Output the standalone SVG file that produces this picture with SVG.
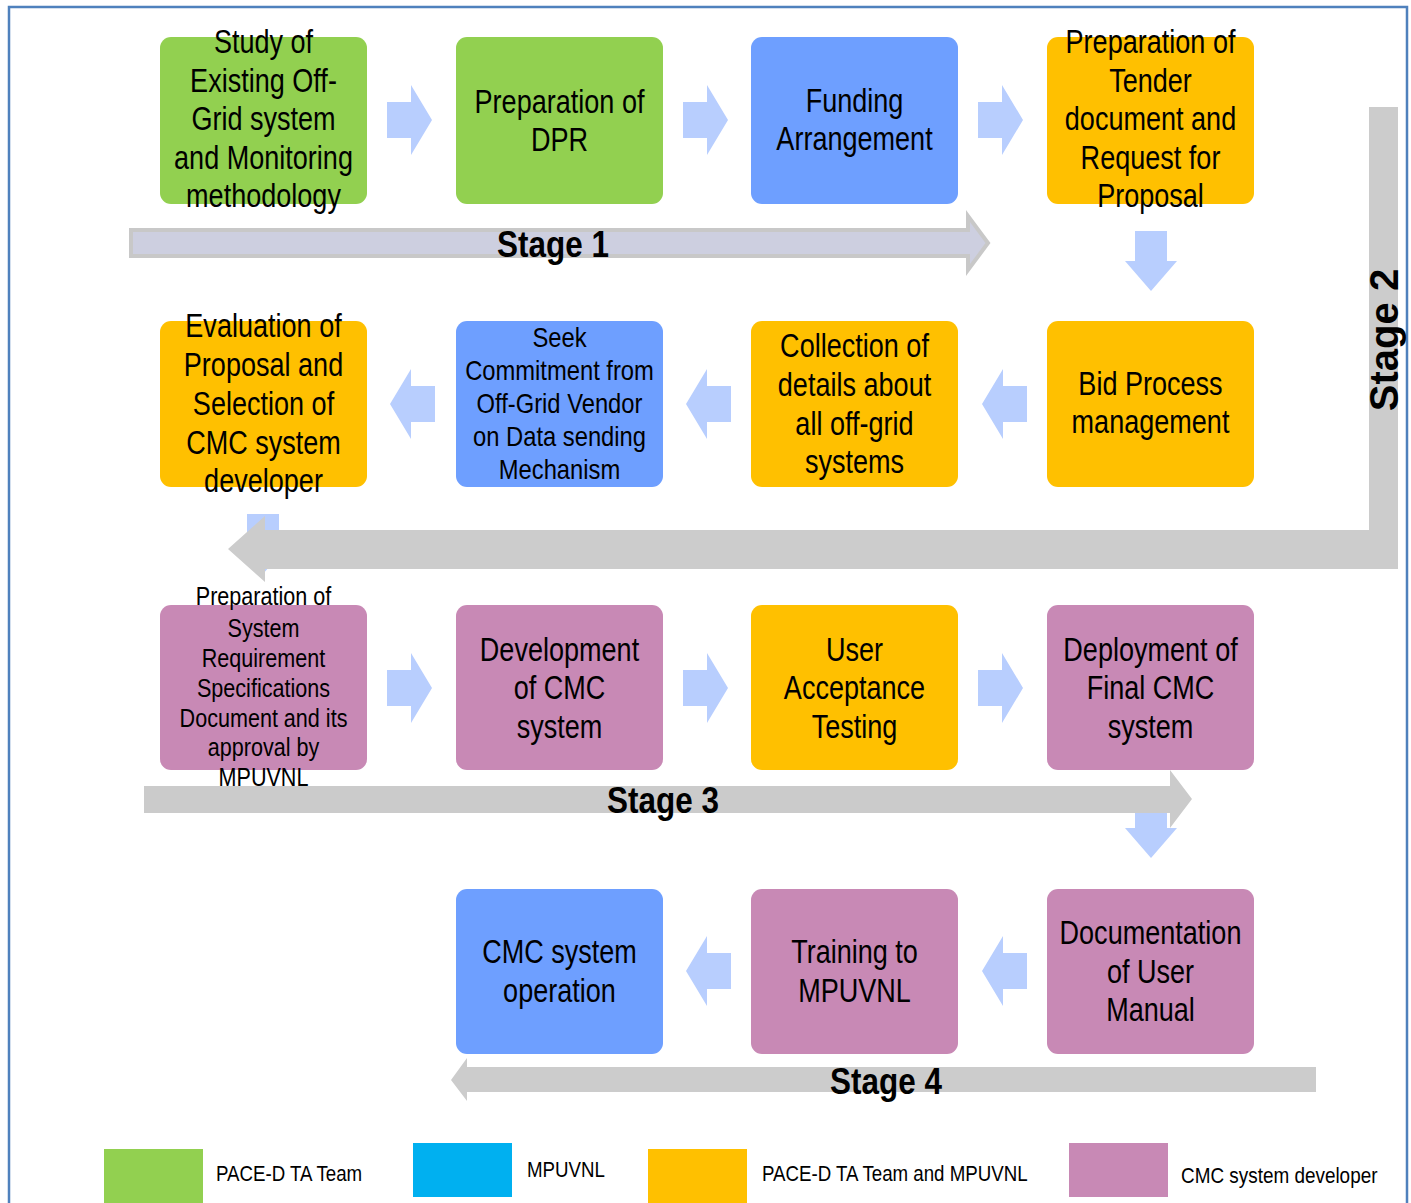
<svg xmlns="http://www.w3.org/2000/svg" width="1411" height="1203" viewBox="0 0 1411 1203">
  <style>
    .box { stroke: none; }
    .green { fill: #92d050; }
    .blue { fill: #6e9fff; }
    .orange { fill: #ffc000; }
    .purple { fill: #c889b5; }
    .t { font-family: "Liberation Sans", Arial, sans-serif; font-size: 33px; fill: #000; text-anchor: middle; }
    .ts { font-family: "Liberation Sans", Arial, sans-serif; font-size: 27px; fill: #000; text-anchor: middle; }
    .tx { font-family: "Liberation Sans", Arial, sans-serif; font-size: 26px; fill: #000; text-anchor: middle; }
    .stage { font-family: "Liberation Sans", Arial, sans-serif; font-size: 37px; font-weight: bold; fill: #000; text-anchor: middle; }
    .stage2 { font-family: "Liberation Sans", Arial, sans-serif; font-size: 40px; font-weight: bold; fill: #000; text-anchor: middle; }
    .leg { font-family: "Liberation Sans", Arial, sans-serif; font-size: 22px; fill: #000; }
    .flow { fill: #b8cefe; }
  </style>
  <defs>
    <path id="arrowR" d="M0,-18 H24 V-35 L45,0 L24,35 V18 H0 Z"/>
    <path id="arrowD" d="M-16,0 H16 V30 H26 L0,60 L-26,30 H-16 Z"/>
  </defs>

  <rect x="0" y="0" width="1411" height="1203" fill="#fff"/>
  <!-- outer frame -->
  <path d="M9,1203 V7 H1407 V1203" fill="none" stroke="#4f81bd" stroke-width="2.5"/>

  <g id="connectors">
    <!-- step arrows, row 1 -->
    <use href="#arrowR" class="flow" transform="translate(387,120)"/>
    <use href="#arrowR" class="flow" transform="translate(683,120)"/>
    <use href="#arrowR" class="flow" transform="translate(978,120)"/>
    <use href="#arrowD" class="flow" transform="translate(1151,231)"/>
    <!-- row 2 (right to left) -->
    <use href="#arrowR" class="flow" transform="translate(1027,404) scale(-1,1)"/>
    <use href="#arrowR" class="flow" transform="translate(731,404) scale(-1,1)"/>
    <use href="#arrowR" class="flow" transform="translate(435,404) scale(-1,1)"/>
    <use href="#arrowD" class="flow" transform="translate(263,514)"/>
    <!-- row 3 -->
    <use href="#arrowR" class="flow" transform="translate(387,688)"/>
    <use href="#arrowR" class="flow" transform="translate(683,688)"/>
    <use href="#arrowR" class="flow" transform="translate(978,688)"/>
    <use href="#arrowD" class="flow" transform="translate(1151,798)"/>
    <!-- row 4 (right to left) -->
    <use href="#arrowR" class="flow" transform="translate(1027,971) scale(-1,1)"/>
    <use href="#arrowR" class="flow" transform="translate(731,971) scale(-1,1)"/>
  </g>

  <g id="stage-arrows">
    <g id="stage1">
      <path d="M131,230 H968 V216 L988,243 L968,270 V256 H131 Z" fill="#cdcfe0" stroke="#c8c8c8" stroke-width="4"/>
    </g>
    <g id="stage2">
      <path d="M1369,107 H1398 V569 H265 V582 L228,549 L265,516 V530 H1369 Z" fill="#cccccc"/>
      <text class="stage2" transform="translate(1398,340) rotate(-90)">Stage 2</text>
    </g>
  </g>

  <!-- row 1 -->
  <g id="n-study">
    <rect class="box green" x="160" y="37" width="207" height="167" rx="11"/>
    <g transform="translate(263.5,0) scale(0.82,1)">
      <text class="t" x="0" y="53">Study of</text>
      <text class="t" x="0" y="92">Existing Off-</text>
      <text class="t" x="0" y="130">Grid system</text>
      <text class="t" x="0" y="169">and Monitoring</text>
      <text class="t" x="0" y="207">methodology</text>
    </g>
  </g>
  <g id="n-dpr">
    <rect class="box green" x="456" y="37" width="207" height="167" rx="11"/>
    <g transform="translate(559.5,0) scale(0.82,1)">
      <text class="t" x="0" y="113">Preparation of</text>
      <text class="t" x="0" y="151">DPR</text>
    </g>
  </g>
  <g id="n-funding">
    <rect class="box blue" x="751" y="37" width="207" height="167" rx="11"/>
    <g transform="translate(854.5,0) scale(0.82,1)">
      <text class="t" x="0" y="112">Funding</text>
      <text class="t" x="0" y="150">Arrangement</text>
    </g>
  </g>
  <g id="n-tender">
    <rect class="box orange" x="1047" y="37" width="207" height="167" rx="11"/>
    <g transform="translate(1150.5,0) scale(0.82,1)">
      <text class="t" x="0" y="53">Preparation of</text>
      <text class="t" x="0" y="92">Tender</text>
      <text class="t" x="0" y="130">document and</text>
      <text class="t" x="0" y="169">Request for</text>
      <text class="t" x="0" y="207">Proposal</text>
    </g>
  </g>

  <!-- row 2 -->
  <g id="n-evaluation">
    <rect class="box orange" x="160" y="321" width="207" height="166" rx="11"/>
    <g transform="translate(263.5,0) scale(0.82,1)">
      <text class="t" x="0" y="337">Evaluation of</text>
      <text class="t" x="0" y="376">Proposal and</text>
      <text class="t" x="0" y="415">Selection of</text>
      <text class="t" x="0" y="454">CMC system</text>
      <text class="t" x="0" y="492">developer</text>
    </g>
  </g>
  <g id="n-seek">
    <rect class="box blue" x="456" y="321" width="207" height="166" rx="11"/>
    <g transform="translate(559.5,0) scale(0.88,1)">
      <text class="ts" x="0" y="347">Seek</text>
      <text class="ts" x="0" y="380">Commitment from</text>
      <text class="ts" x="0" y="413">Off-Grid Vendor</text>
      <text class="ts" x="0" y="446">on Data sending</text>
      <text class="ts" x="0" y="479">Mechanism</text>
    </g>
  </g>
  <g id="n-collection">
    <rect class="box orange" x="751" y="321" width="207" height="166" rx="11"/>
    <g transform="translate(854.5,0) scale(0.82,1)">
      <text class="t" x="0" y="357">Collection of</text>
      <text class="t" x="0" y="396">details about</text>
      <text class="t" x="0" y="435">all off-grid</text>
      <text class="t" x="0" y="473">systems</text>
    </g>
  </g>
  <g id="n-bid">
    <rect class="box orange" x="1047" y="321" width="207" height="166" rx="11"/>
    <g transform="translate(1150.5,0) scale(0.82,1)">
      <text class="t" x="0" y="395">Bid Process</text>
      <text class="t" x="0" y="433">management</text>
    </g>
  </g>

  <!-- row 3 -->
  <g id="n-srs">
    <rect class="box purple" x="160" y="605" width="207" height="165" rx="11"/>
    <g transform="translate(263.5,0) scale(0.83,1)">
      <text class="tx" x="0" y="605">Preparation of</text>
      <text class="tx" x="0" y="637">System</text>
      <text class="tx" x="0" y="667">Requirement</text>
      <text class="tx" x="0" y="697">Specifications</text>
      <text class="tx" x="0" y="727">Document and its</text>
      <text class="tx" x="0" y="756">approval by</text>
      <text class="tx" x="0" y="786">MPUVNL</text>
    </g>
  </g>
  <g id="n-development">
    <rect class="box purple" x="456" y="605" width="207" height="165" rx="11"/>
    <g transform="translate(559.5,0) scale(0.82,1)">
      <text class="t" x="0" y="661">Development</text>
      <text class="t" x="0" y="699">of CMC</text>
      <text class="t" x="0" y="738">system</text>
    </g>
  </g>
  <g id="n-uat">
    <rect class="box orange" x="751" y="605" width="207" height="165" rx="11"/>
    <g transform="translate(854.5,0) scale(0.82,1)">
      <text class="t" x="0" y="661">User</text>
      <text class="t" x="0" y="699">Acceptance</text>
      <text class="t" x="0" y="738">Testing</text>
    </g>
  </g>
  <g id="n-deployment">
    <rect class="box purple" x="1047" y="605" width="207" height="165" rx="11"/>
    <g transform="translate(1150.5,0) scale(0.82,1)">
      <text class="t" x="0" y="661">Deployment of</text>
      <text class="t" x="0" y="699">Final CMC</text>
      <text class="t" x="0" y="738">system</text>
    </g>
  </g>

  <!-- stage 3 arrow sits over the SRS text overflow -->
  <g id="stage3">
    <path d="M144,786 H1170 V770 L1192,799 L1170,828 V813 H144 Z" fill="#cbcbcb"/>
  </g>

  <!-- row 4 -->
  <g id="n-operation">
    <rect class="box blue" x="456" y="889" width="207" height="165" rx="11"/>
    <g transform="translate(559.5,0) scale(0.82,1)">
      <text class="t" x="0" y="963">CMC system</text>
      <text class="t" x="0" y="1002">operation</text>
    </g>
  </g>
  <g id="n-training">
    <rect class="box purple" x="751" y="889" width="207" height="165" rx="11"/>
    <g transform="translate(854.5,0) scale(0.82,1)">
      <text class="t" x="0" y="963">Training to</text>
      <text class="t" x="0" y="1002">MPUVNL</text>
    </g>
  </g>
  <g id="n-manual">
    <rect class="box purple" x="1047" y="889" width="207" height="165" rx="11"/>
    <g transform="translate(1150.5,0) scale(0.82,1)">
      <text class="t" x="0" y="944">Documentation</text>
      <text class="t" x="0" y="983">of User</text>
      <text class="t" x="0" y="1021">Manual</text>
    </g>
  </g>

  <g id="stage4">
    <path d="M1316,1067 V1092 H467 V1101 L451,1080 L467,1058 V1067 Z" fill="#cccccc"/>
  </g>

  <!-- stage labels -->
  <text class="stage" transform="translate(553,257) scale(0.85,1)">Stage 1</text>
  <text class="stage" transform="translate(663,813) scale(0.85,1)">Stage 3</text>
  <text class="stage" transform="translate(886,1094) scale(0.85,1)">Stage 4</text>

  <!-- legend -->
  <g id="legend">
    <rect x="104" y="1149" width="99" height="56" fill="#92d050"/>
    <text class="leg" transform="translate(216,1181) scale(0.85,1)">PACE-D TA Team</text>
    <rect x="413" y="1143" width="99" height="54" fill="#00b0f0"/>
    <text class="leg" transform="translate(527,1177) scale(0.85,1)">MPUVNL</text>
    <rect x="648" y="1149" width="99" height="56" fill="#ffc000"/>
    <text class="leg" transform="translate(762,1181) scale(0.85,1)">PACE-D TA Team and MPUVNL</text>
    <rect x="1069" y="1143" width="99" height="54" fill="#c889b5"/>
    <text class="leg" transform="translate(1181,1183) scale(0.86,1)">CMC system developer</text>
  </g>
</svg>
